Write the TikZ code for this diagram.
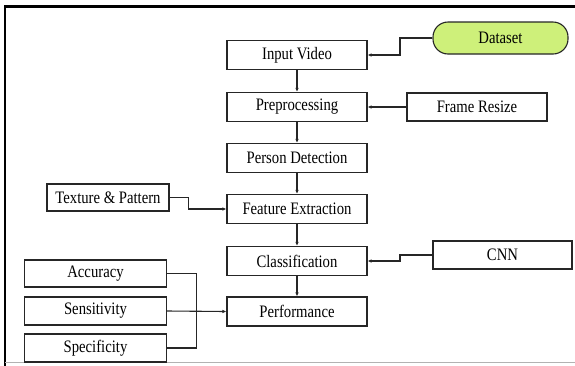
\documentclass[tikz,border=0pt]{standalone}
\usepackage{fontspec}
\usepackage{graphicx}
\setmainfont{Liberation Serif}
\newcommand{\sq}[1]{\scalebox{0.84}[1]{#1}}
\usetikzlibrary{calc,arrows.meta}
\begin{document}
\begin{tikzpicture}[x=1pt,y=-1pt,
  box/.style={draw=black!85,line width=1.1pt,fill=white,inner sep=0pt,font=\fontsize{17.5}{18}\selectfont},
  conn/.style={draw=black!85,line width=1.1pt},
  arr/.style={conn,-{Latex[length=4pt,width=3.5pt]}}]
\useasboundingbox (0,0) rectangle (575,365);
% frame
\draw[line width=2.5pt] (5,367) -- (5,6.5) -- (576,6.5);
\draw[black!30,line width=1pt] (5,362.5) -- (575,362.5);
% nodes
\node[box,minimum width=140pt,minimum height=29pt] (iv) at (297,55) {\sq{Input Video}};
\node[box,fill={rgb,255:red,206;green,240;blue,122},rounded corners=15pt,minimum width=135pt,minimum height=32pt] (ds) at (500.5,38) {\sq{Dataset}};
\node[box,minimum width=140pt,minimum height=29pt] (pp) at (297,107) {\sq{Preprocessing}};
\node[box,minimum width=140pt,minimum height=28pt] (fr) at (477,107) {\sq{Frame Resize}};
\node[box,minimum width=140pt,minimum height=29pt] (pd) at (297,158) {\sq{Person Detection}};
\node[box,minimum width=140pt,minimum height=29pt] (fe) at (297,209) {\sq{Feature Extraction}};
\node[box,minimum width=122pt,minimum height=27pt] (tp) at (108,197.5) {\sq{Texture \& Pattern}};
\node[box,minimum width=140pt,minimum height=29pt] (cl) at (297,261) {\sq{Classification}};
\node[box,minimum width=139pt,minimum height=28pt] (cnn) at (502.5,255) {\sq{CNN}};
\node[box,minimum width=140pt,minimum height=29pt] (pf) at (297,311.5) {\sq{Performance}};
\node[box,minimum width=142pt,minimum height=27pt] (acc) at (95.5,273.5) {\sq{Accuracy}};
\node[box,minimum width=142pt,minimum height=28pt] (sen) at (95.5,311) {\sq{Sensitivity}};
\node[box,minimum width=142pt,minimum height=28pt] (spe) at (95.5,348) {\sq{Specificity}};
% connectors
\draw[arr] (iv) -- (pp);
\draw[arr] (pp) -- (pd);
\draw[arr] (pd) -- (fe);
\draw[arr] (fe) -- (cl);
\draw[arr] (cl) -- (pf);
\draw[arr] (fr) -- (pp);
\draw[arr] (ds.west) -| ($(ds.west)!0.5!(iv.east)$) |- (iv.east);
\draw[arr] (cnn.west) -| ($(cnn.west)!0.5!(cl.east)$) |- (cl.east);
\draw[arr] (tp.east) -- ++(19,0) |- (fe.west);
\draw[arr] (sen.east) -- (pf.west);
\draw[conn] (acc.east) -- ++(29.5,0) coordinate (j) |- (spe.east);
\end{tikzpicture}
\end{document}
